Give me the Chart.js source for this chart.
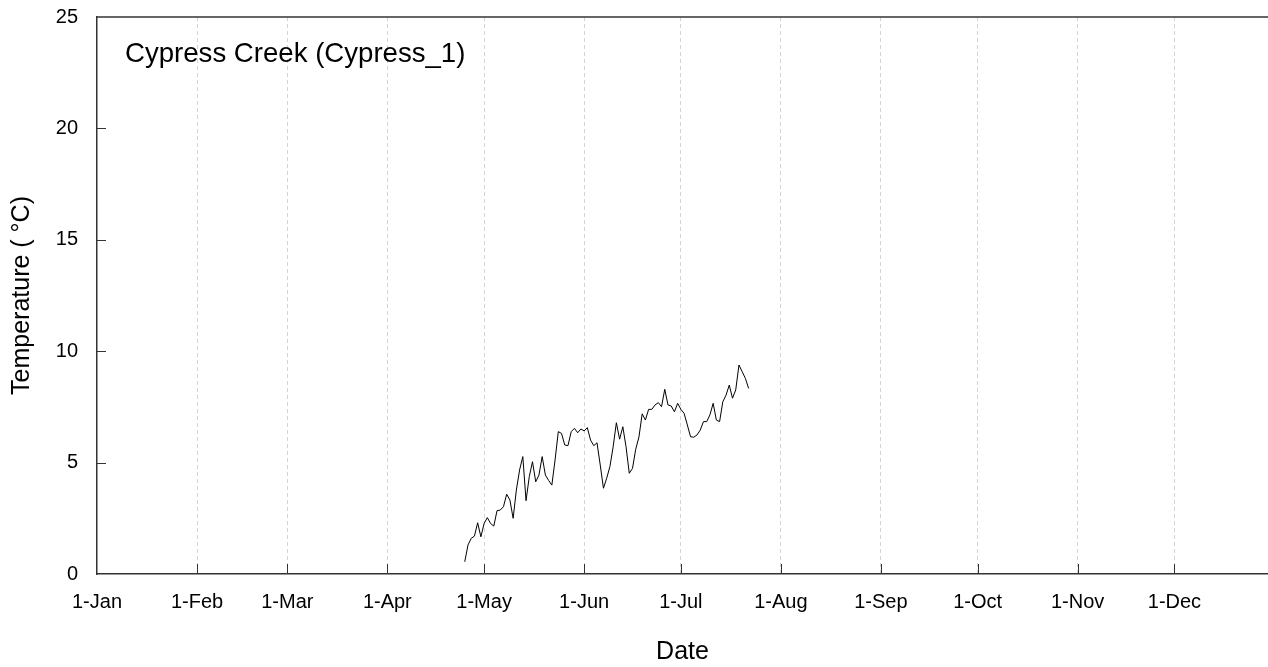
<!DOCTYPE html>
<html>
<head>
<meta charset="utf-8">
<script src="https://cdn.jsdelivr.net/npm/chart.js@4.4.1/dist/chart.umd.min.js"></script>
<style>
  html, body { margin: 0; padding: 0; background: #fff; }
  #wrap { width: 1268px; height: 667px; position: relative; }
</style>
</head>
<body>
<div id="wrap"><canvas id="tempChart" width="1268" height="667"></canvas></div>
<script>
// day of year (0 = 1-Jan) and daily water temperature
const days = [
  114, 115, 116, 117, 118, 119, 120, 121, 122, 123, 124, 125, 126, 127, 128, 129, 130,
  131, 132, 133, 134, 135, 136, 137, 138, 139, 140, 141, 142, 143, 144, 145, 146, 147,
  148, 149, 150, 151, 152, 153, 154, 155, 156, 157, 158, 159, 160, 161, 162, 163, 164,
  165, 166, 167, 168, 169, 170, 171, 172, 173, 174, 175, 176, 177, 178, 179, 180, 181,
  182, 183, 184, 185, 186, 187, 188, 189, 190, 191, 192, 193, 194, 195, 196, 197, 198,
  199, 200, 201, 202
];
const temps = [
  0.55, 1.3, 1.6, 1.7, 2.3, 1.67, 2.27, 2.53, 2.27, 2.15, 2.84, 2.87, 3.02, 3.58, 3.32, 2.5, 3.77,
  4.67, 5.27, 3.29, 4.37, 5.04, 4.14, 4.44, 5.27, 4.44, 4.2, 3.99, 5.12, 6.39, 6.31, 5.79, 5.76, 6.39,
  6.54, 6.34, 6.51, 6.42, 6.57, 6.01, 5.76, 5.89, 4.89, 3.85, 4.3, 4.82, 5.71, 6.79, 6.05, 6.61, 5.71,
  4.52, 4.74, 5.6, 6.15, 7.19, 6.91, 7.39, 7.39, 7.59, 7.69, 7.51, 8.29, 7.59, 7.54, 7.28, 7.66, 7.39,
  7.21, 6.69, 6.16, 6.14, 6.24, 6.46, 6.84, 6.84, 7.14, 7.66, 6.91, 6.84, 7.73, 8.03, 8.48, 7.89, 8.26,
  9.38, 9.08, 8.78, 8.33
];
const monthStarts = [0, 31, 59, 90, 120, 151, 181, 212, 243, 273, 304, 334];
const monthLabels = ['1-Jan', '1-Feb', '1-Mar', '1-Apr', '1-May', '1-Jun', '1-Jul', '1-Aug', '1-Sep', '1-Oct', '1-Nov', '1-Dec'];
const yTicks = [0, 5, 10, 15, 20, 25];
const siteName = 'Cypress Creek (Cypress_1)';

const points = days.map((d, i) => ({ x: d, y: temps[i] }));
const fontFamily = '"Liberation Sans", Arial, sans-serif';

// top border, inward tick marks and the site label
const frame = {
  id: 'frame',
  afterDraw(chart) {
    const ctx = chart.ctx;
    const a = chart.chartArea;
    const xs = chart.scales.x, ys = chart.scales.y;
    ctx.save();
    ctx.strokeStyle = '#333';
    ctx.lineWidth = 1.5;
    ctx.beginPath();
    ctx.moveTo(a.left, a.top);
    ctx.lineTo(a.right, a.top);
    ctx.stroke();
    ctx.lineWidth = 1;
    ctx.beginPath();
    monthStarts.slice(1).forEach(m => {
      const px = Math.round(xs.getPixelForValue(m)) + 0.5;
      ctx.moveTo(px, a.bottom);
      ctx.lineTo(px, a.bottom - 10);
    });
    yTicks.slice(1, -1).forEach(v => {
      const py = Math.round(ys.getPixelForValue(v)) + 0.5;
      ctx.moveTo(a.left, py);
      ctx.lineTo(a.left + 9, py);
    });
    ctx.stroke();
    ctx.fillStyle = '#000';
    ctx.font = '27.6px ' + fontFamily;
    ctx.textBaseline = 'middle';
    ctx.fillText(siteName, a.left + 28, a.top + 37);
    ctx.restore();
  }
};

new Chart(document.getElementById('tempChart'), {
  type: 'line',
  data: {
    datasets: [{
      data: points,
      borderColor: '#000',
      borderWidth: 1,
      pointRadius: 0,
      tension: 0,
      fill: false
    }]
  },
  options: {
    responsive: false,
    animation: false,
    layout: { padding: { top: 17, right: 0, left: 0, bottom: 0 } },
    plugins: { legend: { display: false }, tooltip: { enabled: false } },
    scales: {
      x: {
        type: 'linear',
        min: 0,
        max: 363,
        afterBuildTicks: s => { s.ticks = monthStarts.map(v => ({ value: v })); },
        afterFit: s => { s.height = 93; },
        ticks: {
          autoSkip: false,
          maxRotation: 0,
          padding: 16,
          color: '#000',
          font: { family: fontFamily, size: 20 },
          callback: v => monthLabels[monthStarts.indexOf(v)]
        },
        grid: {
          drawTicks: false,
          color: c => c.tick && c.tick.value === 0 ? 'rgba(0,0,0,0)' : '#d4d4d4',
          lineWidth: 1
        },
        border: { display: true, color: '#333', width: 1.5, dash: [4, 3] },
        title: {
          display: true,
          text: 'Date',
          color: '#000',
          font: { family: fontFamily, size: 25 },
          padding: { top: 0, bottom: 0 }
        }
      },
      y: {
        min: 0,
        max: 25,
        afterBuildTicks: s => { s.ticks = yTicks.map(v => ({ value: v })); },
        afterFit: s => { s.width = 97; s.paddingTop = 0; s.paddingBottom = 0; },
        ticks: {
          padding: 19,
          color: '#000',
          font: { family: fontFamily, size: 20 }
        },
        grid: { display: false, drawTicks: false },
        border: { display: true, color: '#333', width: 1.5 },
        title: {
          display: true,
          text: 'Temperature ( °C)',
          color: '#000',
          font: { family: fontFamily, size: 25 },
          padding: { top: 7, bottom: 0 }
        }
      }
    }
  },
  plugins: [frame]
});
</script>
</body>
</html>
